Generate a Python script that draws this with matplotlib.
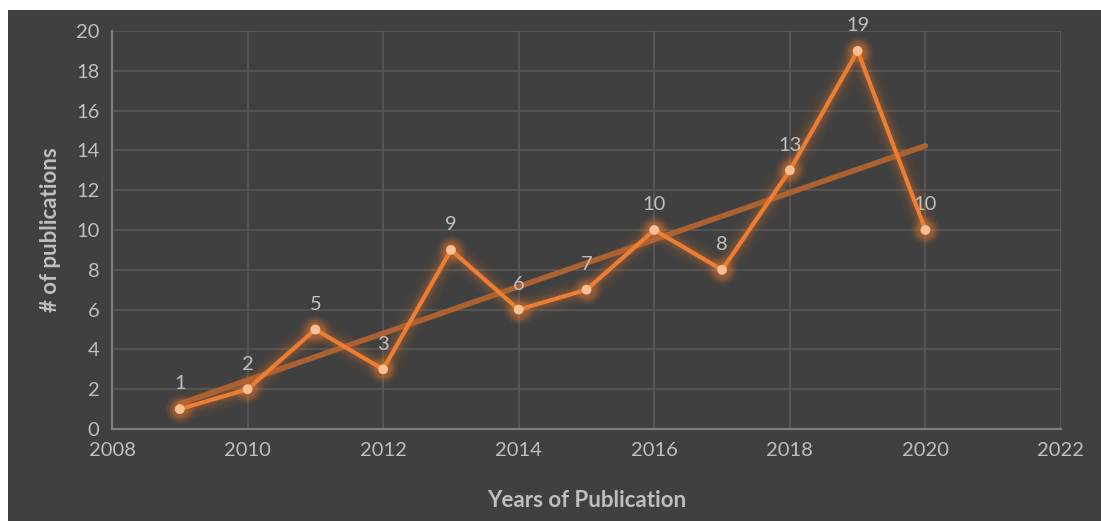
import numpy as np
import matplotlib.pyplot as plt
from matplotlib.patches import Rectangle

years = [2009, 2010, 2011, 2012, 2013, 2014, 2015, 2016, 2017, 2018, 2019, 2020]
publications = [1, 2, 5, 3, 9, 6, 7, 10, 8, 13, 19, 10]

bg = "#404040"
text_col = "#bfbfbf"
orange = "#ed7d31"

plt.rcParams['font.family'] = ['Lato', 'DejaVu Sans']

fig = plt.figure(figsize=(11.01, 5.21), dpi=100)
fig.patch.set_facecolor("white")
fig.patches.append(Rectangle((8 / 1101, 0), 1 - 8 / 1101, 1 - 10 / 521,
                             transform=fig.transFigure, facecolor=bg,
                             edgecolor="none", zorder=-10))

ax = fig.add_axes([112 / 1101, 1 - 429 / 521, (1061 - 112) / 1101, (429 - 31) / 521])
ax.set_facecolor(bg)

# trendline (linear)
k, b = np.polyfit(years, publications, 1)
tx = np.array([years[0], years[-1]])
ax.plot(tx, k * tx + b, color="#b8652f", lw=4, alpha=0.9, solid_capstyle="round", zorder=3)

# glow around series
for w, a in [(20, 0.03), (16, 0.04), (12, 0.06), (9, 0.08), (6, 0.1)]:
    ax.plot(years, publications, color=orange, lw=w, alpha=a, solid_joinstyle="round",
            solid_capstyle="round", zorder=2)
    ax.scatter(years, publications, s=w * 25, color=orange, alpha=a * 1.5, lw=0, zorder=2)

ax.plot(years, publications, color=orange, lw=3, zorder=4, solid_joinstyle="round")
ax.scatter(years, publications, s=50, color="#fbbf95", edgecolor="none", zorder=5)

for x, y in zip(years, publications):
    ax.annotate(str(y), (x, y), xytext=(0, 12), textcoords="offset points",
                ha="center", va="bottom", color=text_col, fontsize=14.5)

ax.set_xlim(2008, 2022)
ax.set_ylim(0, 20)
ax.set_xticks(range(2008, 2023, 2))
ax.set_yticks(range(0, 21, 2))
ax.grid(True, color="#595959", lw=1.2)
ax.set_axisbelow(True)
for side in ["top", "right"]:
    ax.spines[side].set_visible(False)
for side in ["left", "bottom"]:
    ax.spines[side].set_color("#7f7f7f")
    ax.spines[side].set_linewidth(1.5)
ax.tick_params(length=0, colors=text_col, labelsize=14.5, pad=9)

ax.set_xlabel("Years of Publication", color=text_col, fontsize=16, fontweight="bold", labelpad=23)
ax.set_ylabel("# of publications", color=text_col, fontsize=16, fontweight="bold", labelpad=11)

fig.savefig("out.png", dpi=100)
